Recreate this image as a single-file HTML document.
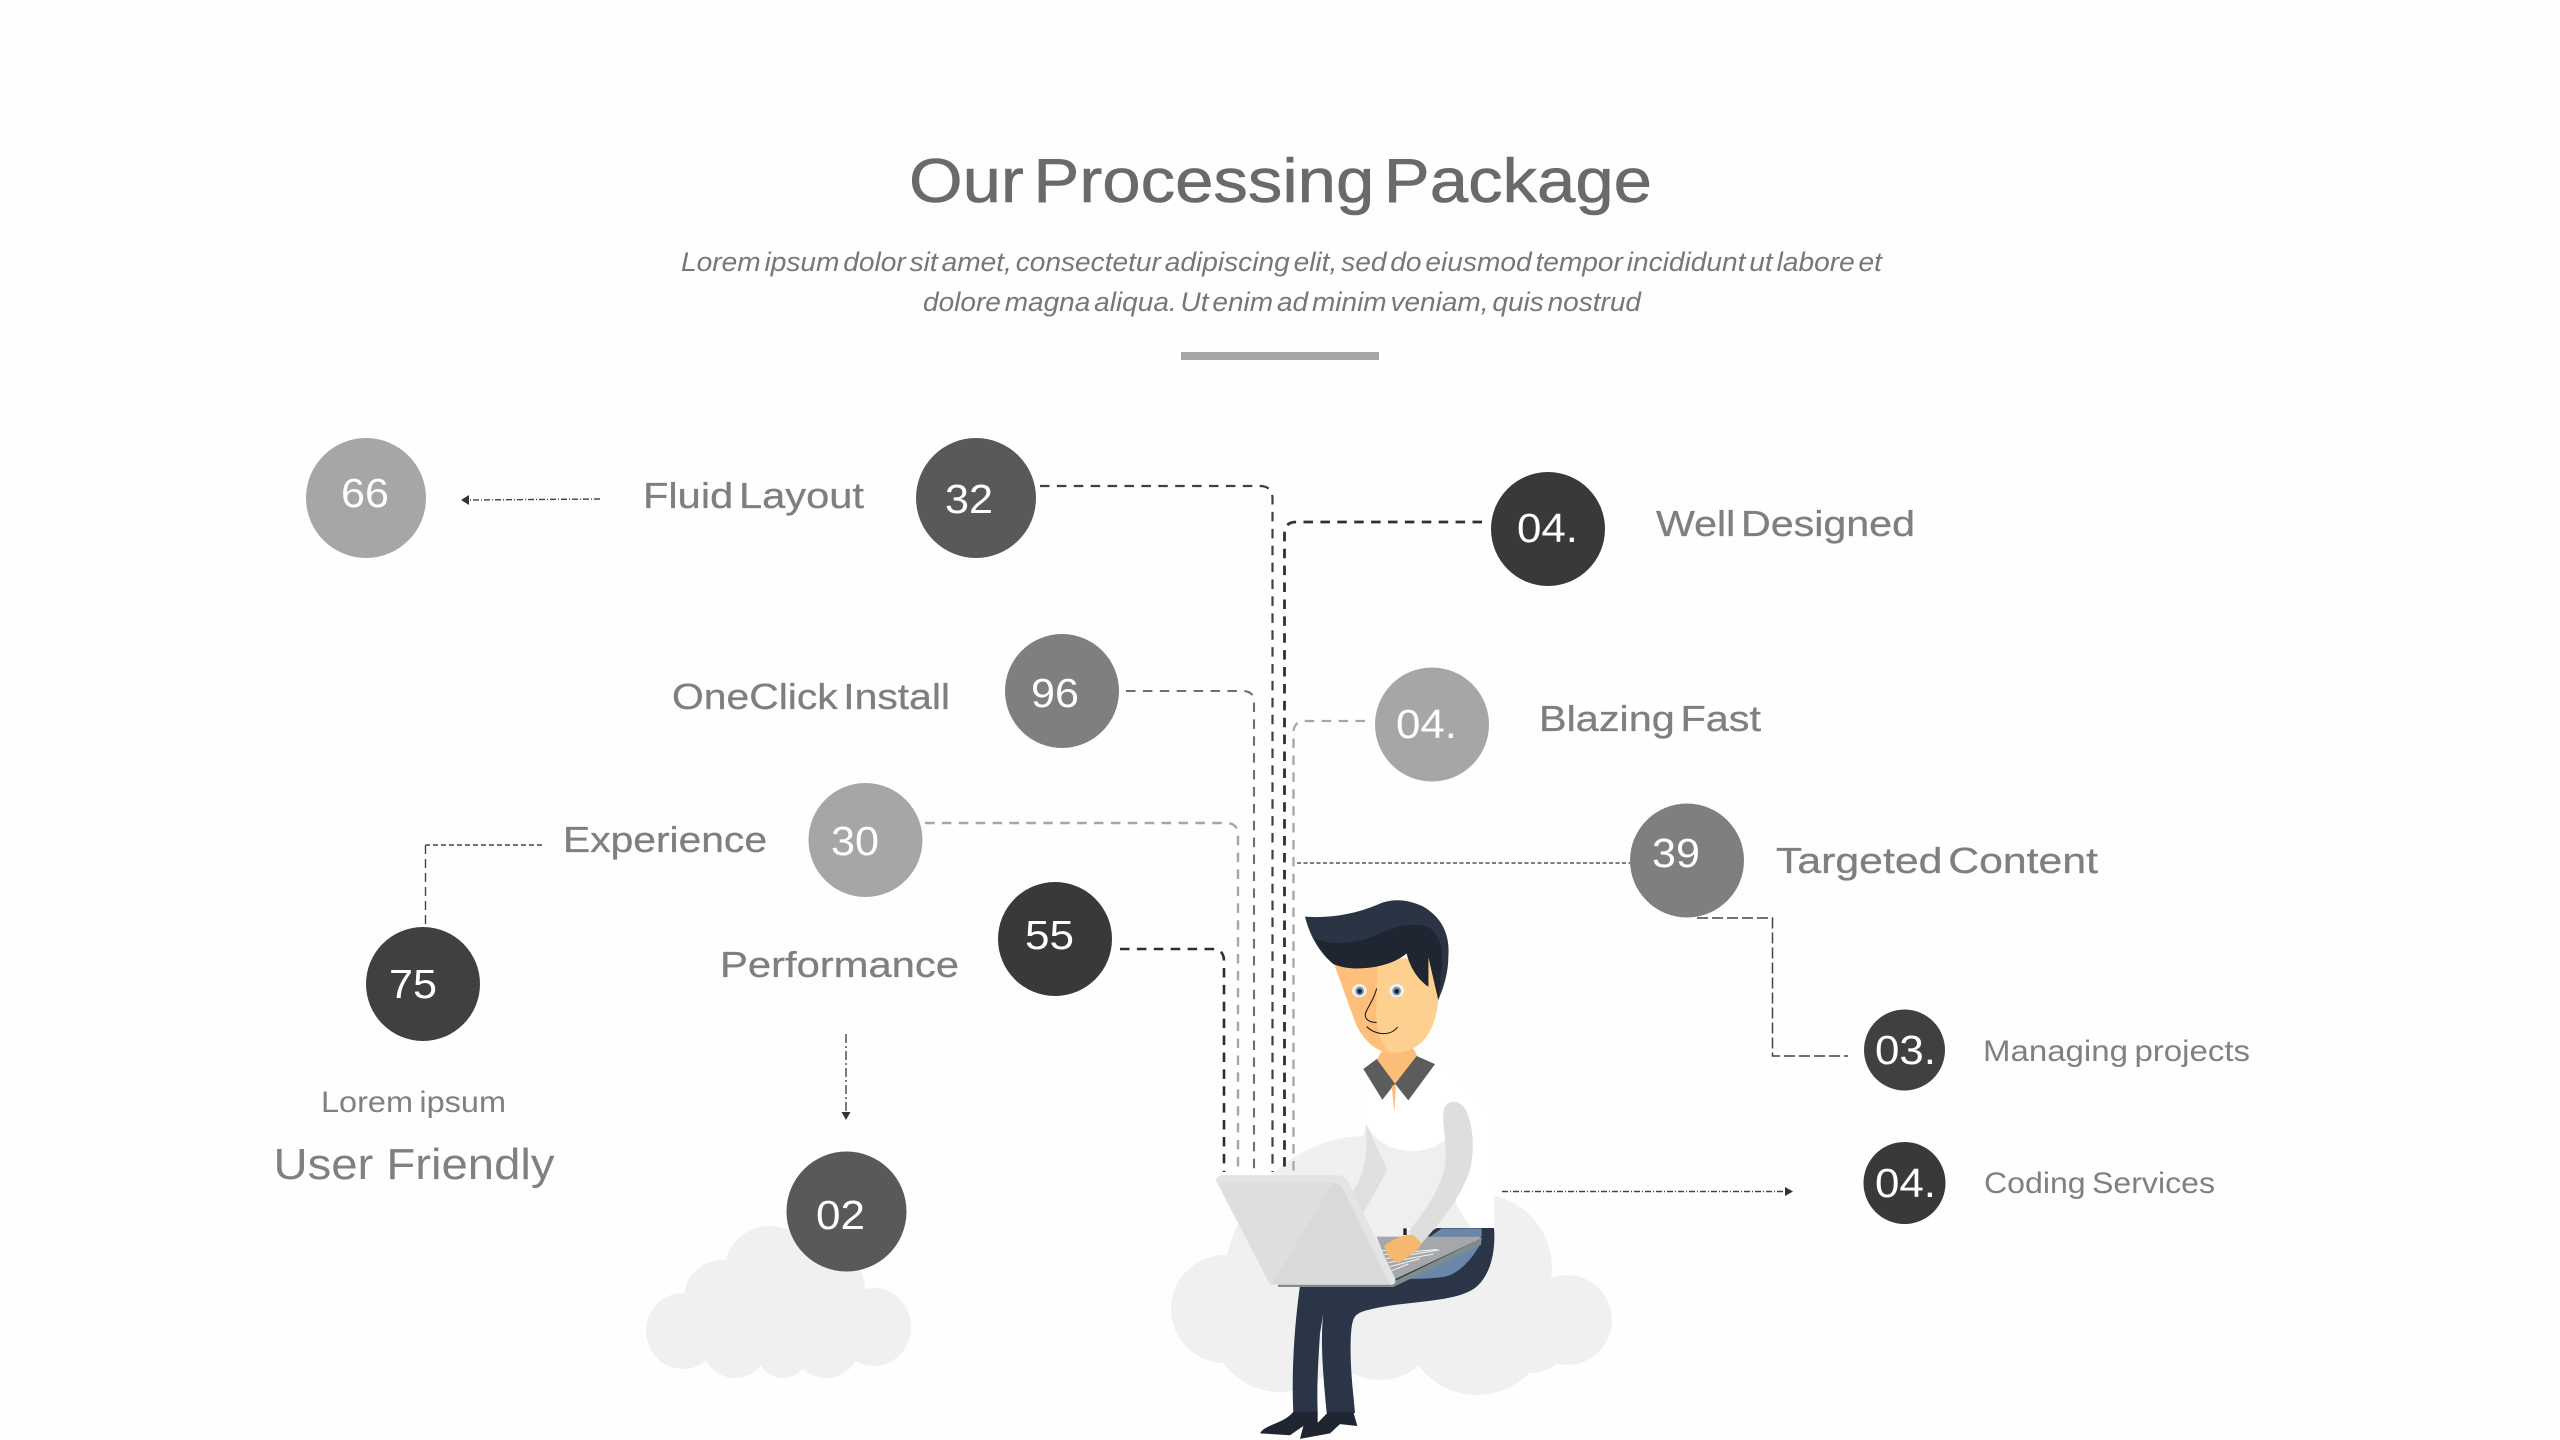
<!DOCTYPE html>
<html>
<head>
<meta charset="utf-8">
<style>
html,body{margin:0;padding:0;background:#fefefe;width:2560px;height:1440px;overflow:hidden}
svg{display:block}
text{font-family:"Liberation Sans",sans-serif}
.l{fill:#7f7f7f;font-size:36px;word-spacing:-.14em;stroke:#7f7f7f;stroke-width:.3px}
.s{fill:#808080;font-size:30px;word-spacing:-.08em}
.n{fill:#fff;font-size:41px}
.sub{fill:#777;font-size:27px;font-style:italic;word-spacing:-.14em}
</style>
</head>
<body>
<svg width="2560" height="1440" viewBox="0 0 2560 1440" xmlns="http://www.w3.org/2000/svg">
<rect width="2560" height="1440" fill="#fefefe"/>

<!-- header -->
<text x="909" y="202" font-size="62" fill="#6a6a6a" stroke="#6a6a6a" stroke-width=".6" style="word-spacing:-.14em" textLength="743" lengthAdjust="spacingAndGlyphs">Our Processing Package</text>
<text class="sub" x="681" y="271" textLength="1201" lengthAdjust="spacingAndGlyphs">Lorem ipsum dolor sit amet, consectetur adipiscing elit, sed do eiusmod tempor incididunt ut labore et</text>
<text class="sub" x="923" y="311" textLength="718" lengthAdjust="spacingAndGlyphs">dolore magna aliqua. Ut enim ad minim veniam, quis nostrud</text>
<rect x="1181" y="352" width="198" height="8" fill="#a6a6a6"/>

<!-- left cloud -->
<g fill="#f0f0f0">
<ellipse cx="683" cy="1331" rx="37" ry="38"/>
<circle cx="722" cy="1298" r="38"/>
<circle cx="770" cy="1272" r="46"/>
<ellipse cx="874" cy="1327" rx="37" ry="39"/>
<circle cx="820" cy="1290" r="45"/>
<circle cx="735" cy="1345" r="33"/>
<circle cx="783" cy="1352" r="26"/>
<circle cx="826" cy="1344" r="34"/>
<rect x="700" y="1290" width="150" height="50"/>
</g>

<!-- right cloud -->
<g fill="#f0f0f0">
<circle cx="1225" cy="1309" r="54"/>
<path d="M1219 1320C1219 1200 1290 1136 1367 1136C1450 1136 1513 1200 1513 1320Z"/>
<circle cx="1478" cy="1268" r="74"/>
<circle cx="1567" cy="1320" r="45"/>
<circle cx="1477" cy="1322" r="73"/>
<circle cx="1280" cy="1322" r="70"/>
<circle cx="1380" cy="1320" r="60"/>
<circle cx="1530" cy="1330" r="43"/>
</g>

<!-- connectors -->
<g fill="none">
<path d="M1040 486H1260Q1272 486 1272.500 498V1172" stroke="#404040" stroke-width="2.200" stroke-dasharray="9.500 7.400"/>
<path d="M1482 522H1296Q1284.500 522 1284.500 534V1172" stroke="#303030" stroke-width="2.800" stroke-dasharray="9.500 7.400"/>
<path d="M1126 691H1243Q1254 691 1254 702V1172" stroke="#6f6f6f" stroke-width="2.100" stroke-dasharray="9.500 7.400"/>
<path d="M925 823H1226Q1238 823 1238 835V1172" stroke="#a6a6a6" stroke-width="2.400" stroke-dasharray="9.500 7.400"/>
<path d="M1120 949H1212Q1224 949 1224 961V1172" stroke="#2d2d2d" stroke-width="2.600" stroke-dasharray="9.500 7.400"/>
<path d="M1365 721H1305Q1293.500 721 1293.500 733V1172" stroke="#a6a6a6" stroke-width="2.300" stroke-dasharray="9.500 7.400"/>
<path d="M1297 863H1630" stroke="#555" stroke-width="1.500" stroke-dasharray="4 2.500"/>
<path d="M1697 918H1772.500V1056H1848" stroke="#444" stroke-width="1.500" stroke-dasharray="11 4"/>
<path d="M542 845H425.500" stroke="#444" stroke-width="1.400" stroke-dasharray="5 3"/>
<path d="M425.500 845V927" stroke="#444" stroke-width="1.400" stroke-dasharray="9 5"/>
<path d="M600 499L470 500" stroke="#444" stroke-width="1.400" stroke-dasharray="6 2 1 2"/>
<path d="M846 1034V1112" stroke="#444" stroke-width="1.400" stroke-dasharray="9 3 2 3"/>
<path d="M1502 1191.500H1785" stroke="#444" stroke-width="1.400" stroke-dasharray="6 2 1 2"/>
</g>
<g fill="#333">
<polygon points="461,500 469,495 469,505"/>
<polygon points="846,1120 841.500,1112 850.500,1112"/>
<polygon points="1793,1191.500 1785,1187 1785,1196"/>
</g>

<!-- circles -->
<circle cx="366" cy="498" r="60" fill="#a6a6a6"/>
<circle cx="976" cy="498" r="60" fill="#595959"/>
<circle cx="1062" cy="691" r="57" fill="#7f7f7f"/>
<circle cx="865.500" cy="840" r="57" fill="#a6a6a6"/>
<circle cx="1055" cy="939" r="57" fill="#3a3839"/>
<circle cx="423" cy="984" r="57" fill="#404040"/>
<circle cx="846.500" cy="1211.500" r="60" fill="#595959"/>
<circle cx="1548" cy="529" r="57" fill="#3a3839"/>
<circle cx="1432" cy="724.500" r="57" fill="#a6a6a6"/>
<circle cx="1687" cy="860.500" r="57" fill="#7f7f7f"/>
<circle cx="1904.500" cy="1050" r="40.500" fill="#404040"/>
<circle cx="1904.500" cy="1183" r="41" fill="#3a3839"/>

<!-- numbers -->
<g class="n">
<text class="n" x="341" y="507" textLength="48" lengthAdjust="spacingAndGlyphs">66</text>
<text class="n" x="945" y="513" textLength="48" lengthAdjust="spacingAndGlyphs">32</text>
<text class="n" x="1031" y="707" textLength="48" lengthAdjust="spacingAndGlyphs">96</text>
<text class="n" x="831" y="855" textLength="48" lengthAdjust="spacingAndGlyphs">30</text>
<text class="n" x="1025" y="949" textLength="49" lengthAdjust="spacingAndGlyphs">55</text>
<text class="n" x="389" y="998" textLength="48" lengthAdjust="spacingAndGlyphs">75</text>
<text class="n" x="816" y="1229" textLength="49" lengthAdjust="spacingAndGlyphs">02</text>
<text class="n" x="1517" y="542" textLength="61" lengthAdjust="spacingAndGlyphs">04.</text>
<text class="n" x="1396" y="738" textLength="61" lengthAdjust="spacingAndGlyphs">04.</text>
<text class="n" x="1652" y="867" textLength="48" lengthAdjust="spacingAndGlyphs">39</text>
<text class="n" x="1875" y="1064" textLength="61" lengthAdjust="spacingAndGlyphs">03.</text>
<text class="n" x="1875" y="1197" textLength="61" lengthAdjust="spacingAndGlyphs">04.</text>
</g>

<!-- labels -->
<text class="l" x="643" y="508" textLength="221" lengthAdjust="spacingAndGlyphs">Fluid Layout</text>
<text class="l" x="672" y="709" textLength="278" lengthAdjust="spacingAndGlyphs">OneClick Install</text>
<text class="l" x="563" y="852" textLength="204" lengthAdjust="spacingAndGlyphs">Experience</text>
<text class="l" x="720" y="977" textLength="239" lengthAdjust="spacingAndGlyphs">Performance</text>
<text class="s" x="321" y="1112" textLength="185" lengthAdjust="spacingAndGlyphs">Lorem ipsum</text>
<text x="273.500" y="1179" font-size="44" fill="#808080" textLength="281" lengthAdjust="spacingAndGlyphs">User Friendly</text>
<text class="l" x="1656" y="536" textLength="259" lengthAdjust="spacingAndGlyphs">Well Designed</text>
<text class="l" x="1539" y="731" textLength="222" lengthAdjust="spacingAndGlyphs">Blazing Fast</text>
<text class="l" x="1776" y="873" textLength="322" lengthAdjust="spacingAndGlyphs">Targeted Content</text>
<text class="s" x="1983" y="1061" textLength="267" lengthAdjust="spacingAndGlyphs">Managing projects</text>
<text class="s" x="1984" y="1193" textLength="231" lengthAdjust="spacingAndGlyphs">Coding Services</text>

<!-- person: body base -->
<g transform="translate(1150,860) scale(0.33333,0.36990)">
<path d="M640 590L855 552C950 590 1030 660 1033 760V1000H760L650 800C635 720 630 650 640 590Z" fill="#ffffff"/>
<path d="M640 590H900V900H640Z" fill="#ffffff"/>
<path d="M2 0Z" fill="none"/>
</g>
<g transform="translate(1280,1080) scale(0.33333)">
<path d="M258 130C285 200 400 250 497 180L530 375L572 445H290L215 340Z" fill="#efefef"/>
<path d="M258 130L322 270L250 400L215 340C250 290 265 230 258 130Z" fill="#dfdfdf"/>
</g>
<!-- legs, neck, collar -->
<g transform="translate(1150,860) scale(0.33333,0.36990)">
<path d="M1032 995H860L600 1130L450 1150C430 1280 425 1400 430 1495H503C500 1420 505 1350 510 1280L520 1225C510 1300 520 1400 530 1495H615C610 1440 600 1380 602 1300C605 1240 610 1230 640 1220C750 1190 900 1200 970 1160C1020 1130 1038 1060 1032 995Z" fill="#2a3548"/>
<path d="M430 1492H503V1535L460 1530L420 1555L330 1550C345 1525 400 1525 430 1492Z" fill="#1f2632"/>
<path d="M535 1492H610L622 1530L570 1525L540 1550L450 1565L460 1530L505 1520Z" fill="#1f2632"/>
<path d="M680 540L700 510H790L805 535L735 610Z" fill="#fcbd78"/>
</g>
<!-- head -->
<g transform="translate(1290,890) scale(0.33333)">
<path d="M130 215L440 200L445 330C440 390 420 440 385 465C360 485 320 490 290 487C250 480 215 445 195 395Z" fill="#fdd08f"/>
<path d="M130 215L262 225L258 380C265 430 275 465 300 487C250 480 215 445 195 395Z" fill="#fdbf7a"/>
<path d="M45 80C110 85 190 75 260 45C300 25 350 25 400 50C460 85 480 140 475 200C475 250 460 295 445 330L415 200L415 290C380 265 360 230 350 190C320 215 270 235 200 235C170 235 150 230 130 222C90 190 60 140 45 80Z" fill="#2a3444"/>
<path d="M75 145C130 170 210 160 270 130C320 105 380 95 420 115C450 135 460 180 455 225L445 330L415 200L415 290C380 265 360 230 350 190C320 215 270 235 200 235C170 235 150 230 130 222C105 200 88 170 75 145Z" fill="#1f2631"/>
<ellipse cx="208" cy="302" rx="22" ry="20" fill="#eef2f5"/>
<ellipse cx="320" cy="302" rx="22" ry="20" fill="#eef2f5"/>
<circle cx="209" cy="303" r="13" fill="#7d93a8"/>
<circle cx="320" cy="303" r="13" fill="#7d93a8"/>
<circle cx="209" cy="304" r="7" fill="#142030"/>
<circle cx="320" cy="304" r="7" fill="#142030"/>
<path d="M260 295C252 330 230 355 226 372C224 392 245 398 260 397" fill="none" stroke="#111" stroke-width="3"/>
<path d="M230 410C255 435 300 440 323 411" fill="none" stroke="#111" stroke-width="3"/>
</g>
<g transform="translate(1150,860) scale(0.33333,0.36990)">
<path d="M640 565L680 538L735 605L697 648Z" fill="#5c5c5c"/>
<path d="M800 530L855 552L775 650L735 605Z" fill="#5c5c5c"/>
<path d="M725 610L733 682L738 610Z" fill="#fcbd78"/>
</g>
<!-- lower: laptop, hand, arm -->
<g transform="translate(1280,1080) scale(0.33333)">
<path d="M485 445H605V470H450Z" fill="#6b86ab"/>
<path d="M340 605L602 490C575 540 530 590 480 592C440 596 390 598 365 595Z" fill="#6b86ab"/>
<path d="M290 470L600 470L605 475L340 600Z" fill="#a5a7aa"/>
<path d="M340 605L605 475L603 495L340 621H-6V612Z" fill="#7f8c8e"/>
<g stroke="#f4f4f4" stroke-width="3" fill="none">
<path d="M305 512L400 510"/><path d="M312 524L470 508"/><path d="M318 536L478 510"/>
<path d="M324 548L460 522"/><path d="M330 560L420 536"/><path d="M335 572L385 552"/>
</g>
<path d="M490 100C490 65 530 50 555 85C580 130 585 210 570 270C540 360 470 440 425 490L385 455C430 400 500 310 497 220C497 170 488 130 490 100Z" fill="#dedede"/>
<rect x="370" y="445" width="10" height="20" fill="#222"/>
<path d="M312 498C340 475 385 460 400 465L425 490C415 515 395 520 385 530L355 550L325 530Z" fill="#f6b76f"/>
</g>
<g transform="translate(1150,860) scale(0.33333,0.36990)">
<path d="M198 868C198 855 210 852 225 852H560C580 852 590 860 600 880L735 1130C740 1145 730 1150 720 1148H360Z" fill="#e4e4e4"/>
<path d="M205 872H545C565 872 575 880 585 900L715 1140C720 1148 715 1148 708 1148H360Z" fill="#dedede"/>
<path d="M550 872C565 875 575 885 585 900L715 1140C720 1148 715 1148 708 1148H365Z" fill="#d9d9d9"/>
</g>
</svg>
</body>
</html>
